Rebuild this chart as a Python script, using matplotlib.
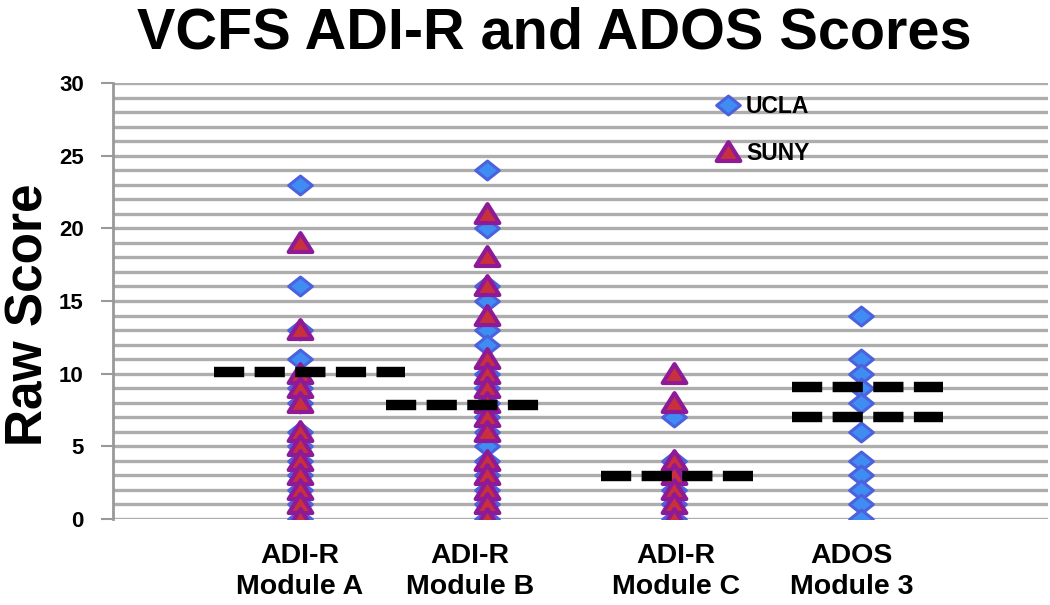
import matplotlib
matplotlib.use("Agg")
import matplotlib.pyplot as plt
from matplotlib.path import Path
from matplotlib.lines import Line2D

plt.rcParams['font.family'] = ['Liberation Sans', 'DejaVu Sans']

# ---- data ----
categories = ["ADI-R\nModule A", "ADI-R\nModule B", "ADI-R\nModule C", "ADOS\nModule 3"]
ucla = [
    [23, 16, 13, 11, 9, 8, 6, 5, 4, 3, 2, 1, 0],
    [24, 20, 16, 15, 13, 12, 10, 9, 8, 7, 6, 5, 4, 3, 2, 1, 0],
    [7, 4, 3, 2, 1, 0],
    [14, 11, 10, 9, 8, 6, 4, 3, 2, 1, 0],
]
suny = [
    [19, 13, 10, 9, 8, 6, 5, 4, 3, 2, 1, 0],
    [21, 18, 16, 14, 11, 10, 9, 8, 7, 6, 4, 3, 2, 1, 0],
    [10, 8, 4, 3, 2, 1, 0],
    [],
]
# group reference (dashed) lines: (category index, value)
ref_lines = [(0, 10.1), (1, 7.85), (2, 2.95), (3, 9.05), (3, 7.05)]
yticks = [0, 5, 10, 15, 20, 25, 30]

# ---- layout ----
x_pos = [1, 2, 3, 4]
label_pos = [1.0, 1.91, 3.01, 3.95]
line_extent = [(-0.46, 0.56), (-0.54, 0.29), (-0.39, 0.42), (-0.37, 0.44)]

diamond = Path([(-1, 0), (0, 0.8), (1, 0), (0, -0.8), (-1, 0)],
               [Path.MOVETO, Path.LINETO, Path.LINETO, Path.LINETO, Path.CLOSEPOLY])
triangle = Path([(-1, -0.72), (1, -0.72), (0, 0.88), (-1, -0.72)],
                [Path.MOVETO, Path.LINETO, Path.LINETO, Path.CLOSEPOLY])

dia_face, dia_edge = '#3f8cf2', '#4c62dd'
tri_face, tri_edge = '#c8303c', '#8e1a98'

fig = plt.figure(figsize=(10.5, 6.05), dpi=100)
ax = fig.add_axes([113/1050, 1-519/605, (1048-113)/1050, (519-83)/605])

ax.set_xlim(0, 5)
ax.set_ylim(0, 30)

# grid lines every unit
for v in range(0, 31):
    ax.axhline(v, color='#adadad', lw=2.4, zorder=0.5)

for i, (u, s) in enumerate(zip(ucla, suny)):
    ax.plot([x_pos[i]] * len(u), u, linestyle='none', marker=diamond, ms=17,
            mfc=dia_face, mec=dia_edge, mew=2.2, zorder=3)
    if s:
        ax.plot([x_pos[i]] * len(s), s, linestyle='none', marker=triangle, ms=17,
                mfc=tri_face, mec=tri_edge, mew=3.0, zorder=4)

for ci, val in ref_lines:
    lo, hi = line_extent[ci]
    ax.plot([x_pos[ci] + lo, x_pos[ci] + hi], [val, val], color='black', lw=7.5,
            dashes=(2.9, 1.0), solid_capstyle='butt', dash_capstyle='butt', zorder=5)

ax.set_yticks(yticks)
ax.set_yticklabels([str(t) for t in yticks], fontsize=16, fontweight='bold')
ax.tick_params(axis='y', length=9, width=1.5, color='#999999', pad=12)
ax.set_xticks(label_pos)
ax.set_xticklabels(categories, fontsize=20.5, fontweight='bold', linespacing=1.25)
ax.tick_params(axis='x', length=0, pad=17)

for side in ['top', 'right', 'bottom']:
    ax.spines[side].set_visible(False)
ax.spines['left'].set_color('#999999')
ax.spines['left'].set_linewidth(2)

ax.set_ylabel('Raw Score', fontsize=37, fontweight='bold', va='center', ha='center')
ax.yaxis.set_label_coords(-(113 - 29.5) / 935, 0.468)
fig.suptitle('VCFS ADI-R and ADOS Scores', fontsize=41.5, fontweight='bold', x=0.528, y=0.99)

handles = [
    Line2D([], [], linestyle='none', marker=diamond, ms=17, mfc=dia_face, mec=dia_edge, mew=2.2),
    Line2D([], [], linestyle='none', marker=triangle, ms=17, mfc=tri_face, mec=tri_edge, mew=3.0),
]
ax.legend(handles, ['UCLA', 'SUNY'], loc='upper left', bbox_to_anchor=(0.628, 1.01),
          frameon=False, prop={'weight': 'bold', 'size': 16.5}, handlelength=1.0,
          handletextpad=0.3, labelspacing=1.05, borderpad=0.2)

fig.savefig('out.png', dpi=100)
